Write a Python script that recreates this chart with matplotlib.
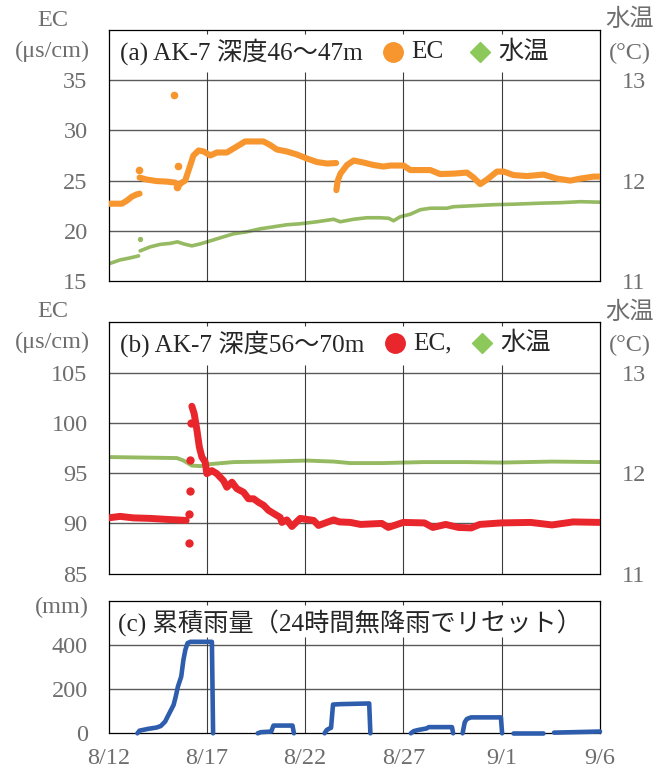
import numpy as np
import matplotlib
matplotlib.use("Agg")
import matplotlib.pyplot as plt
from matplotlib.lines import Line2D

FONTS = ["Liberation Serif", "Noto Sans CJK JP", "DejaVu Sans"]
plt.rcParams["font.family"] = FONTS

# ---------------- data (x = days since 8/12) ----------------
x_ticks = [0, 5, 10, 15, 20, 25]
x_ticklabels = ["8/12", "8/17", "8/22", "8/27", "9/1", "9/6"]

# (a) AK-7 depth 46-47 m : EC (uS/cm), continuous segments
ec_a_seg1_day = [0.0, 0.68, 0.93, 1.19, 1.40, 1.58]
ec_a_seg1_val = [22.7, 22.7, 23.0, 23.4, 23.6, 23.7]
ec_a_seg2_day = [1.58, 1.95, 2.46, 2.97, 3.39, 3.56, 3.73, 3.90, 4.07, 4.32, 4.58, 4.84,
                 5.18, 5.51, 6.02, 6.53, 6.95, 7.88, 8.22, 8.56, 9.07, 9.58, 10.09,
                 10.60, 11.11, 11.58]
ec_a_seg2_val = [25.3, 25.1, 24.95, 24.9, 24.8, 24.5, 24.8, 25.0, 26.0, 27.5, 28.0, 27.9,
                 27.5, 27.8, 27.8, 28.4, 28.9, 28.9, 28.55, 28.1, 27.9, 27.6, 27.2,
                 26.85, 26.7, 26.75]
ec_a_seg3_day = [11.59, 11.66, 11.80, 12.13, 12.47, 12.97, 13.48, 13.99, 14.33, 15.01,
                 15.35, 15.86, 16.37, 16.87, 17.6, 18.23, 18.57, 18.91, 19.25, 19.76,
                 20.10, 20.60, 21.28, 22.13, 22.81, 23.49, 24.00, 24.68, 25.0]
ec_a_seg3_val = [24.05, 25.0, 25.7, 26.55, 27.0, 26.8, 26.55, 26.4, 26.5, 26.5,
                 26.05, 26.05, 26.05, 25.65, 25.7, 25.8, 25.3, 24.65, 25.1, 25.9,
                 25.9, 25.55, 25.45, 25.6, 25.2, 25.0, 25.2, 25.4, 25.4]
ec_a_out_day = [1.56, 3.34, 3.48, 3.52]
ec_a_out_val = [26.1, 33.5, 24.4, 26.5]

# (a) water temperature (deg C)
wt_a_seg1_day = [0.0, 0.59, 1.10, 1.53]
wt_a_seg1_val = [11.17, 11.21, 11.23, 11.25]
wt_a_seg2_day = [1.61, 2.12, 2.63, 3.14, 3.51, 3.81, 4.24, 4.67, 5.18, 5.68, 6.36, 7.04,
                 7.72, 8.40, 9.07, 9.75, 10.60, 11.45, 11.79, 12.47, 13.14, 13.82,
                 14.25, 14.50, 14.84, 15.35, 15.86, 16.37, 17.21, 17.55, 18.57, 19.59,
                 20.60, 21.96, 22.98, 24.00, 25.0]
wt_a_seg2_val = [11.30, 11.34, 11.365, 11.375, 11.39, 11.37, 11.35, 11.37, 11.40, 11.43,
                 11.47, 11.49, 11.52, 11.54, 11.56, 11.57, 11.59, 11.615, 11.59, 11.615,
                 11.63, 11.63, 11.625, 11.60, 11.64, 11.665, 11.71, 11.725, 11.725,
                 11.74, 11.75, 11.76, 11.765, 11.775, 11.78, 11.79, 11.785]
wt_a_out_day = [1.58]
wt_a_out_val = [11.42]

# (b) AK-7 depth 56-70 m : EC (uS/cm)
ec_b_seg1_day = [0.0, 0.59, 1.27, 2.12, 2.97, 3.95]
ec_b_seg1_val = [90.55, 90.7, 90.55, 90.5, 90.4, 90.3]
ec_b_seg2_day = [4.24, 4.36, 4.50, 4.62, 4.75, 4.92, 5.00, 5.26, 5.51, 5.85, 6.02, 6.28,
                 6.53, 6.87, 7.12, 7.38, 7.63, 7.89, 8.14, 8.39, 8.73, 8.82, 9.07, 9.33,
                 9.75, 10.43, 10.68, 11.45, 11.74, 12.30, 12.82, 13.90, 14.23, 14.99,
                 16.07, 16.50, 17.15, 17.80, 18.45, 18.88, 19.96, 21.47, 22.56, 23.64,
                 25.0]
ec_b_seg2_val = [101.65, 100.9, 99.25, 97.6, 96.6, 96.1, 94.95, 95.25, 94.95, 94.25, 93.6,
                 94.1, 93.45, 93.1, 92.45, 92.45, 92.1, 91.8, 91.3, 91.0, 90.6, 90.1,
                 90.35, 89.7, 90.5, 90.3, 89.8, 90.35, 90.15, 90.1, 89.9, 90.0, 89.6,
                 90.1, 90.05, 89.6, 89.9, 89.6, 89.55, 89.9, 90.05, 90.1, 89.85, 90.15,
                 90.1]
ec_b_out_day = [4.12, 4.07, 4.16, 4.16, 4.22]
ec_b_out_val = [88.05, 90.9, 93.2, 96.35, 100.0]

# (b) water temperature (deg C)
wt_b_day = [0.0, 3.48, 3.82, 4.24, 4.67, 5.18, 6.36, 8.06, 10.09, 11.45, 12.30, 13.90,
            16.07, 18.23, 19.96, 22.56, 25.0]
wt_b_val = [12.16, 12.15, 12.125, 12.075, 12.07, 12.09, 12.11, 12.115, 12.125, 12.115,
            12.10, 12.10, 12.11, 12.11, 12.105, 12.115, 12.11]

# (c) cumulative rainfall (mm), reset after 24 h without rain
rain_events_day = [
    [1.47, 1.58, 2.01, 2.44, 2.66, 2.88, 3.09, 3.31, 3.42, 3.53, 3.70, 3.81, 3.91, 4.02,
     4.17, 5.26, 5.32],
    [7.59, 7.75, 8.28, 8.39, 9.36, 9.43],
    [10.99, 11.10, 11.20, 11.32, 11.42, 11.80, 13.26, 13.32],
    [15.38, 15.53, 15.75, 16.18, 16.29, 17.47, 17.53],
    [18.01, 18.12, 18.23, 18.44, 19.96, 20.02],
    [20.55, 22.10],
    [22.66, 25.0],
]
rain_events_val = [
    [0, 12, 20, 26, 33, 53, 90, 128, 166, 211, 257, 332, 378, 408, 414, 414, 0],
    [0, 5, 8, 35, 35, 0],
    [0, 15, 20, 25, 130, 132, 135, 0],
    [0, 10, 15, 22, 28, 28, 0],
    [0, 50, 65, 72, 72, 0],
    [2, 2],
    [3, 8],
]

# ---------------- styling ----------------
C_ORANGE = "#F7962F"
C_GREEN = "#95BA62"
C_GREEN_MK = "#8CC85A"
C_RED = "#E8262C"
C_BLUE = "#2D5DAC"
C_TICK = "#6e6e6e"
C_TEXT = "#262626"
C_HGRID = "#5a5a5a"
C_VGRID = "#3c3c3c"
FS = 17.5
FS_T = 18.2

fig = plt.figure(figsize=(6.65, 7.75), dpi=100)

L, W = 108.5 / 665, 491.5 / 665


def fy(px_top, px_bot):
    return [L, 1 - px_bot / 775, W, (px_bot - px_top) / 775]


ax_a = fig.add_axes(fy(30, 281))
ax_b = fig.add_axes(fy(322.3, 573.7))
ax_c = fig.add_axes(fy(600.7, 733.3))


def base_style(ax, ylim, yticks, vtop):
    ax.set_xlim(0, 25)
    ax.set_ylim(*ylim)
    ax.set_yticks(yticks)
    ax.set_xticks(x_ticks)
    ax.tick_params(axis="y", length=0, pad=15, labelsize=FS, labelcolor=C_TICK)
    ax.tick_params(axis="x", length=3, direction="in", top=True, bottom=False,
                   width=0.8, color=C_VGRID, labelsize=FS, labelcolor=C_TICK, pad=10.5)
    for t in ax.get_yticklabels():
        t.set_family(FONTS)
    for s in ax.spines.values():
        s.set_color("black")
        s.set_linewidth(0.9)
    for yv in yticks[1:]:
        ax.axhline(yv, color=C_HGRID, lw=1.0, zorder=0.5)
    ax.vlines(x_ticks[1:-1], ylim[0], vtop, color=C_VGRID, lw=0.8, zorder=0.6)


def temp_axis(ax):
    axr = ax.twinx()
    axr.set_ylim(11, 13.5)
    axr.set_yticks([11, 12, 13])
    axr.tick_params(axis="y", length=0, pad=15.5, labelsize=FS, labelcolor=C_TICK)
    for s in axr.spines.values():
        s.set_visible(False)
    ax.set_zorder(axr.get_zorder() + 1)
    ax.patch.set_visible(False)
    return axr


def strip(ax, xs, ys, color, lw):
    ax.plot(xs, ys, color=color, lw=lw, solid_capstyle="round",
            solid_joinstyle="round", zorder=3)


def legend_row(ax, yfrac, title, items):
    ax.text(0.0235, yfrac, title, transform=ax.transAxes, fontsize=FS_T,
            color=C_TEXT, va="center", ha="left", family=FONTS)
    for xm, marker, color, ms, xt, label in items:
        ax.add_line(Line2D([xm], [yfrac], transform=ax.transAxes, marker=marker,
                           color=color, ms=ms, ls="none", clip_on=False, zorder=5))
        ax.text(xt, yfrac, label, transform=ax.transAxes, fontsize=FS_T,
                color=C_TEXT, va="center", ha="left", family=FONTS)


# ---- (a)
base_style(ax_a, (15, 40), [15, 20, 25, 30, 35], 35.8)
ax_a.set_xticklabels([])
ax_ar = temp_axis(ax_a)
strip(ax_ar, wt_a_seg1_day, wt_a_seg1_val, C_GREEN, 2.6)
strip(ax_ar, wt_a_seg2_day, wt_a_seg2_val, C_GREEN, 2.6)
ax_ar.plot(wt_a_out_day, wt_a_out_val, "o", color=C_GREEN, ms=2.8, zorder=3)
strip(ax_a, ec_a_seg1_day, ec_a_seg1_val, C_ORANGE, 4.4)
strip(ax_a, ec_a_seg2_day, ec_a_seg2_val, C_ORANGE, 4.4)
strip(ax_a, ec_a_seg3_day, ec_a_seg3_val, C_ORANGE, 4.4)
ax_a.plot(ec_a_out_day, ec_a_out_val, "o", color=C_ORANGE, ms=5.5, mew=0, zorder=3)
legend_row(ax_a, 0.913, "(a) AK-7 深度46～47m",
           [(0.579, "o", C_ORANGE, 14, 0.616, "EC"),
            (0.756, "D", C_GREEN_MK, 10, 0.793, "水温")])

# ---- (b)
base_style(ax_b, (85, 110), [85, 90, 95, 100, 105], 105.8)
ax_b.set_xticklabels([])
ax_br = temp_axis(ax_b)
strip(ax_br, wt_b_day, wt_b_val, C_GREEN, 2.8)
strip(ax_b, ec_b_seg1_day, ec_b_seg1_val, C_RED, 5.0)
strip(ax_b, ec_b_seg2_day, ec_b_seg2_val, C_RED, 5.0)
ax_b.plot(ec_b_out_day, ec_b_out_val, "o", color=C_RED, ms=6, mew=0, zorder=3)
legend_row(ax_b, 0.916, "(b) AK-7 深度56～70m",
           [(0.582, "o", C_RED, 14, 0.620, "EC,"),
            (0.760, "D", C_GREEN_MK, 10, 0.798, "水温")])

# ---- (c)
base_style(ax_c, (0, 600), [0, 200, 400], 437)
ax_c.set_xticklabels(x_ticklabels)
for t in ax_c.get_xticklabels():
    t.set_family(FONTS)
for xs, ys in zip(rain_events_day, rain_events_val):
    ax_c.plot(xs, ys, color=C_BLUE, lw=3.3, solid_capstyle="round",
              solid_joinstyle="round", zorder=3, clip_on=False)
ax_c.text(0.019, 0.832, "(c) 累積雨量（24時間無降雨でリセット）", transform=ax_c.transAxes,
          fontsize=FS_T, color=C_TEXT, va="center", ha="left", family=FONTS)

# ---- unit labels
def flabel(x, y, s):
    fig.text(x / 665, 1 - y / 775, s, fontsize=FS, color=C_TICK, ha="center",
             va="center", family=FONTS)


flabel(53, 20, "EC")
flabel(52, 51, "(μs/cm)")
flabel(630, 20, "水温")
flabel(630, 53, "(°C)")
flabel(53, 311, "EC")
flabel(52, 342, "(μs/cm)")
flabel(630, 313, "水温")
flabel(630, 345, "(°C)")
flabel(62, 607, "(mm)")

fig.savefig("out.png", dpi=100)
